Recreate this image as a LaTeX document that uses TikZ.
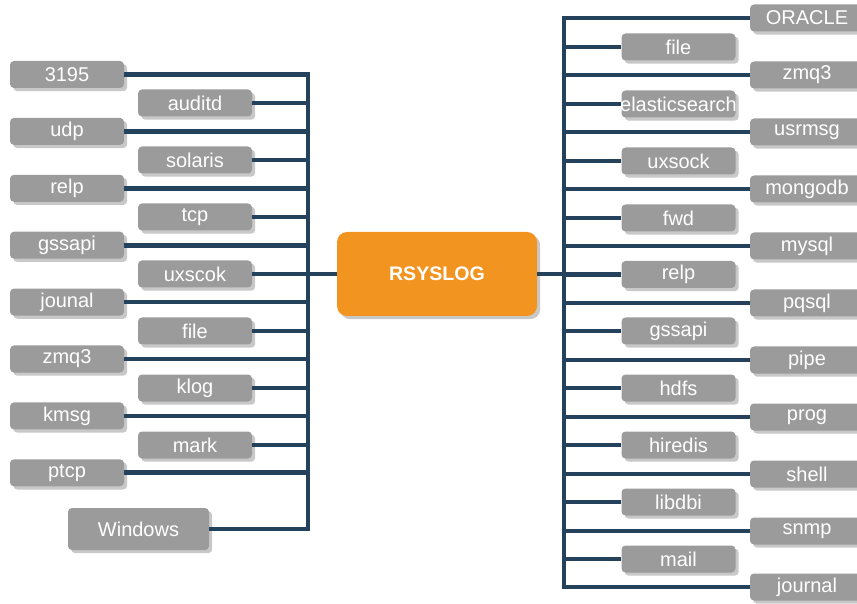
\documentclass[tikz,border=0pt]{standalone}
\usepackage{fontspec}
\setmainfont{Liberation Sans}
\usepackage{xcolor}
\usetikzlibrary{shadows, positioning}
\definecolor{boxGray}{RGB}{155,155,155}
\definecolor{shadowGray}{RGB}{200,200,200}
\definecolor{busNavy}{RGB}{36,66,92}
\definecolor{syslogOrange}{RGB}{242,148,32}

\begin{document}
\begin{tikzpicture}[x=0.5pt, y=-0.5pt,
module/.style={rectangle, rounded corners=2pt, fill=boxGray, text=white,
minimum width=57pt, minimum height=13.5pt, inner sep=0pt,
font=\fontsize{10}{11}\selectfont,
drop shadow={shadow xshift=1.6pt, shadow yshift=-1.6pt, fill=shadowGray, opacity=1}},
link/.style={line width=2.4pt, color=busNavy}]
\clip (0,0) rectangle (857,604);
\coordinate (busL) at (308,0);
\coordinate (busR) at (564,0);
% center
\node[module, fill=syslogOrange, rounded corners=5pt, minimum width=100pt,
    minimum height=42pt, font=\fontsize{9.8}{11}\selectfont\bfseries] (rsyslog) at (437,274) {RSYSLOG};
% inputs
\node[module] (im3195)    at (67,74.5)  {3195};
\node[module] (imAuditd)  at (195,103)  {auditd};
\node[module] (imUdp)     at (67,131.4) {udp};
\node[module] (imSolaris) at (195,160)  {solaris};
\node[module] (imRelp)    at (67,188.3) {relp};
\node[module] (imTcp)     at (195,217)  {tcp};
\node[module] (imGssapi)  at (67,245.2) {gssapi};
\node[module] (imUxscok)  at (195,274)  {uxscok};
\node[module] (imJounal)  at (67,302.1) {jounal};
\node[module] (imFile)    at (195,331)  {file};
\node[module] (imZmq)     at (67,359)   {zmq3};
\node[module] (imKlog)    at (195,388)  {klog};
\node[module] (imKmsg)    at (67,415.9) {kmsg};
\node[module] (imMark)    at (195,445)  {mark};
\node[module] (imPtcp)    at (67,472.8) {ptcp};
\node[module, minimum width=70.5pt, minimum height=21pt] (imWindows) at (138.5,529) {Windows};
% outputs
\node[module] (omOracle)  at (807,18)    {ORACLE};
\node[module] (omFile)    at (678.5,47)  {file};
\node[module] (omZmq)     at (807,75)    {zmq3};
\node[module] (omElastic) at (678.5,104) {\makebox[0pt]{elasticsearch}};
\node[module] (omUsrmsg)  at (807,132)   {usrmsg};
\node[module] (omUxsock)  at (678.5,161) {uxsock};
\node[module] (omMongodb) at (807,189)   {mongodb};
\node[module] (omFwd)     at (678.5,218) {fwd};
\node[module] (omMysql)   at (807,246)   {mysql};
\node[module] (omRelp)    at (678.5,274.5) {relp};
\node[module] (omPqsql)   at (807,303)   {pqsql};
\node[module] (omGssapi)  at (678.5,331) {gssapi};
\node[module] (omPipe)    at (807,360)   {pipe};
\node[module] (omHdfs)    at (678.5,388) {hdfs};
\node[module] (omProg)    at (807,417)   {prog};
\node[module] (omHiredis) at (678.5,445) {hiredis};
\node[module] (omShell)   at (807,474)   {shell};
\node[module] (omLibdbi)  at (678.5,502) {libdbi};
\node[module] (omSnmp)    at (807,531)   {snmp};
\node[module] (omMail)    at (678.5,559) {mail};
\node[module] (omJournal) at (807,587)   {journal};
% left bus
\draw[link] (im3195.east) -| (imWindows.east -| busL) -- (imWindows.east);
\draw[link] (imAuditd.east)  -- (imAuditd.east -| busL);
\draw[link] (imUdp.east)     -- (imUdp.east -| busL);
\draw[link] (imSolaris.east) -- (imSolaris.east -| busL);
\draw[link] (imRelp.east)    -- (imRelp.east -| busL);
\draw[link] (imTcp.east)     -- (imTcp.east -| busL);
\draw[link] (imGssapi.east)  -- (imGssapi.east -| busL);
\draw[link] (imUxscok.east)  -- (imUxscok.east -| busL);
\draw[link] (imJounal.east)  -- (imJounal.east -| busL);
\draw[link] (imFile.east)    -- (imFile.east -| busL);
\draw[link] (imZmq.east)     -- (imZmq.east -| busL);
\draw[link] (imKlog.east)    -- (imKlog.east -| busL);
\draw[link] (imKmsg.east)    -- (imKmsg.east -| busL);
\draw[link] (imMark.east)    -- (imMark.east -| busL);
\draw[link] (imPtcp.east)    -- (imPtcp.east -| busL);
\draw[link] (rsyslog.west)   -- (rsyslog.west -| busL);
% right bus
\draw[link] (omOracle.west) -| (omJournal.west -| busR) -- (omJournal.west);
\draw[link] (omFile.west)    -- (omFile.west -| busR);
\draw[link] (omZmq.west)     -- (omZmq.west -| busR);
\draw[link] (omElastic.west) -- (omElastic.west -| busR);
\draw[link] (omUsrmsg.west)  -- (omUsrmsg.west -| busR);
\draw[link] (omUxsock.west)  -- (omUxsock.west -| busR);
\draw[link] (omMongodb.west) -- (omMongodb.west -| busR);
\draw[link] (omFwd.west)     -- (omFwd.west -| busR);
\draw[link] (omMysql.west)   -- (omMysql.west -| busR);
\draw[link] (omRelp.west)    -- (omRelp.west -| busR);
\draw[link] (omPqsql.west)   -- (omPqsql.west -| busR);
\draw[link] (omGssapi.west)  -- (omGssapi.west -| busR);
\draw[link] (omPipe.west)    -- (omPipe.west -| busR);
\draw[link] (omHdfs.west)    -- (omHdfs.west -| busR);
\draw[link] (omProg.west)    -- (omProg.west -| busR);
\draw[link] (omHiredis.west) -- (omHiredis.west -| busR);
\draw[link] (omShell.west)   -- (omShell.west -| busR);
\draw[link] (omLibdbi.west)  -- (omLibdbi.west -| busR);
\draw[link] (omSnmp.west)    -- (omSnmp.west -| busR);
\draw[link] (omMail.west)    -- (omMail.west -| busR);
\draw[link] (rsyslog.east)   -- (rsyslog.east -| busR);
\end{tikzpicture}
\end{document}
